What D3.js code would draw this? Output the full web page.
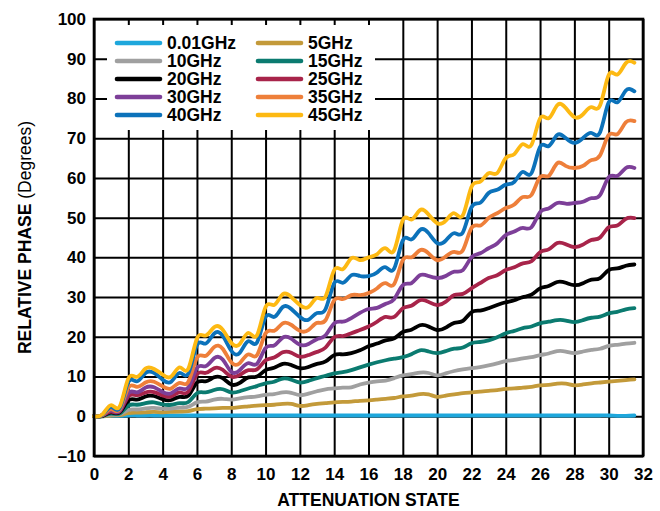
<!DOCTYPE html>
<html>
<head>
<meta charset="utf-8">
<title>Relative Phase vs Attenuation State</title>
<script src="https://cdn.jsdelivr.net/npm/d3@7"></script>
<style>
  body { margin: 0; background: #fff; }
  text { font-family: "Liberation Sans", Arial, sans-serif; font-weight: bold; fill: #000; }
</style>
</head>
<body>
<div id="chart"></div>
<script>
// attenuation states (0.5 dB steps)
var states = [0,0.5,1,1.5,2,2.5,3,3.5,4,4.5,5,5.5,6,6.5,7,7.5,
              8,8.5,9,9.5,10,10.5,11,11.5,12,12.5,13,13.5,14,14.5,15,15.5,
              16,16.5,17,17.5,18,18.5,19,19.5,20,20.5,21,21.5,22,22.5,23,23.5,
              24,24.5,25,25.5,26,26.5,27,27.5,28,28.5,29,29.5,30,30.5,31,31.5];

var xTicks = [0,2,4,6,8,10,12,14,16,18,20,22,24,26,28,30,32];
var yTicks = [-10,0,10,20,30,40,50,60,70,80,90,100];

var legendNames = ["0.01GHz","5GHz","10GHz","15GHz","20GHz","25GHz","30GHz","35GHz","40GHz","45GHz"];
var colors = ["#1ea7dc","#c39a3a","#a0a0a0","#0b7b70","#000000","#a8244a","#7d3f98","#ee7f3a","#0c72ba","#fdb913"];

// relative phase (degrees) per frequency
var p001 = [0,0,0.1,0.1, 0.2,0.2,0.2,0.2, 0.2,0.2,0.2,0.2, 0.2,0.2,0.2,0.2,
            0.2,0.2,0.2,0.2, 0.2,0.2,0.2,0.2, 0.2,0.2,0.2,0.2, 0.2,0.2,0.2,0.2,
            0.2,0.2,0.2,0.2, 0.2,0.2,0.2,0.2, 0.2,0.2,0.2,0.2, 0.2,0.2,0.2,0.2,
            0.2,0.2,0.2,0.2, 0.2,0.2,0.2,0.2, 0.2,0.2,0.2,0.2, 0.2,0.1,0.1,0.2];
var p5 = [0,0,0.2,0.3, 0.8,0.9,1,1.1, 1,1.1,1.2,1.3, 1.8,1.9,2,2.1,
          2.1,2.3,2.5,2.7, 2.8,2.9,3.1,3.1, 2.6,2.8,3.1,3.3, 3.5,3.6,3.7,3.9,
          4,4.2,4.4,4.6, 5,5.2,5.6,5.5, 4.9,5.2,5.5,5.8, 6,6.2,6.4,6.6,
          6.9,7,7.2,7.4, 7.8,7.9,8.2,8.2, 7.8,8,8.3,8.5, 8.7,8.9,9.1,9.3];
var p10 = [0,0.1,0.4,0.5, 1.6,1.7,2,2.1, 1.9,1.9,2.2,2.4, 3.5,3.7,4.2,4.4,
           4.2,4.5,4.8,5, 5.4,5.6,6,5.9, 5.3,5.7,6.3,6.8, 7,7.2,7.3,8,
           8.5,8.8,9,9.6, 10.3,10.6,11,10.9, 10.3,10.8,11.4,11.8, 12.1,12.4,12.8,13.3,
           13.9,14.2,14.6,14.9, 15.4,15.8,16.4,16.3, 15.9,16.3,16.7,17, 17.7,18,18.3,18.5];
var p15 = [0,0.1,0.7,0.7, 2.7,2.9,3.3,3.5, 3,2.9,3.3,3.6, 5.8,6,6.6,6.8,
           6,6.3,7,7.6, 8.3,8.7,9.5,9.2, 8.5,8.9,9.6,10.2, 10.8,11.1,11.6,12.3,
           13,13.6,14.1,14.5, 14.9,15.6,16.6,16.3, 15.9,16.4,17,17.3, 18.4,18.7,19.1,19.9,
           20.9,21.5,22.2,22.6, 23.4,23.8,24.2,24.1, 23.7,24.2,24.8,25.1, 25.9,26.3,26.9,27.2];
var p20 = [0,0.1,1,1, 4,4.2,5,5.1, 4.3,4.1,4.9,5.2, 8.5,8.8,9.8,9.6,
           8,8.4,9.8,10, 11.6,12.2,13.2,12.9, 12.1,12.4,13.2,13.8, 15.4,15.6,15.9,16.6,
           17.6,18.3,19.1,19.6, 21.2,21.8,22.9,22.6, 21.7,22.3,23.5,24, 26.2,26.6,27.2,28,
           28.7,29.2,30,30.6, 32.2,32.8,33.8,33.6, 33,33.5,34.4,34.8, 36.8,37.2,37.9,38.2];
var p25 = [0,0.2,1.2,1.2, 5,5.3,6,6.1, 5.2,5,6,6.2, 10.6,10.9,12.1,11.7,
           10,10.4,11.6,11.8, 14.1,14.8,16.1,16, 15,15.4,16.2,17.3, 19.9,20.2,20.9,21.7,
           22.6,23.8,25,25, 27.2,27.8,29.2,28.8, 28,28.8,30.5,30.8, 32.2,33.5,34.8,35.5,
           36.8,37.5,38.5,39, 41.3,42,43.6,43.3, 42.6,43.2,44.4,45, 47.6,48,49.7,49.9];
var p30 = [0,0.3,1.5,1.4, 5.8,6,7.2,7.3, 6.1,5.8,7,7.3, 12.2,12.6,14.6,14.3,
           11.2,11.6,13.4,13.2, 17.2,17.8,19.8,19.5, 18,18.2,19.4,20.4, 23.4,23.8,24.7,26,
           27,27.3,28.3,29.5, 33,33.5,35.5,35.3, 34.8,35.3,36.4,36.8, 40,41,42.3,43.5,
           45.6,46.5,47.4,47.6, 51.4,52.3,53.7,53.5, 53.7,54,54.9,55.7, 60.2,60.5,62.5,62.5];
var p35 = [0,0.3,1.8,1.7, 7.2,7.4,8.5,8.7, 7.5,7,8.4,8.7, 14.7,15.2,17.4,17,
           13.6,13.4,15.6,15.4, 20.9,21.5,23.4,23, 21.5,21.7,23.5,24.2, 29.2,29.5,30.5,30.5,
           31,32.2,33.5,33.3, 39.3,40,41.8,41, 39.3,40.2,41.4,41.8, 47.4,48,49.9,51.1,
           52.4,53.3,55.2,55.7, 60.2,60.5,63.7,63, 62.5,63,64.5,65.7, 70.8,71,74,74.3];
var p40 = [0,0.4,2.3,2.1, 8.6,8.8,10.9,10.9, 9.2,8.7,10.9,10.8, 17.9,18.3,20.8,20.3,
           16.5,16,18.9,18.6, 25,25,27.5,27, 25,24.3,26,27, 33.5,33.6,35.5,35.3,
           35.3,36.2,37.5,37.2, 44.3,44.5,46.9,46.1, 43.6,44.2,46.1,46.3, 52.6,53.7,56.2,57,
           58.3,59,61.5,61.2, 67.8,68,70.8,70, 68.8,70,71.3,71.5, 79,79,82,81.8];
var p45 = [0,0.5,2.8,2.5, 9.5,9.9,12,11.9, 10.5,10,12.3,12, 19.6,20.3,22.4,21.8,
           18.5,18.2,21,20.4, 27.5,28,30.7,30, 28,27.5,29.8,30.2, 36.8,37,39.8,39.3,
           40,40.8,42.3,41.8, 49.4,49.5,51.9,50.8, 48.6,49.2,51.1,50.6, 57.7,59,61.2,61.2,
           65,66,68.5,68.3, 75,75,78.3,77.6, 75.3,76,77.8,78.3, 85.9,86,88.9,89];

var allSeries = [p001, p5, p10, p15, p20, p25, p30, p35, p40, p45];

var width = 660, height = 511;
var plotLeft = 94, plotRight = 643, plotTop = 19, plotBottom = 456;

var svg = d3.select("#chart").append("svg")
    .attr("width", width)
    .attr("height", height);

var x = d3.scaleLinear().domain([0, 32]).range([plotLeft, plotRight]);
var y = d3.scaleLinear().domain([-10, 100]).range([plotBottom, plotTop]);

// grid
svg.append("g")
    .attr("transform", "translate(0," + plotBottom + ")")
    .call(d3.axisBottom(x).tickValues(xTicks).tickSize(-(plotBottom - plotTop)).tickFormat(""))
    .call(g => g.select(".domain").remove())
    .selectAll("line").attr("stroke", "#000").attr("stroke-width", 2);

svg.append("g")
    .attr("transform", "translate(" + plotLeft + ",0)")
    .call(d3.axisLeft(y).tickValues(yTicks).tickSize(-(plotRight - plotLeft)).tickFormat(""))
    .call(g => g.select(".domain").remove())
    .selectAll("line").attr("stroke", "#000").attr("stroke-width", 2);

// curves
var line = d3.line()
    .x((d, i) => x(states[i]))
    .y(d => y(d))
    .curve(d3.curveNatural);

svg.append("g")
    .selectAll("path")
    .data(allSeries)
    .join("path")
    .attr("d", line)
    .attr("fill", "none")
    .attr("stroke", (d, i) => colors[i])
    .attr("stroke-width", 3.8)
    .attr("stroke-linejoin", "round")
    .attr("stroke-linecap", "round");

// legend box hides the grid behind it
svg.append("rect")
    .attr("x", 107).attr("y", 25)
    .attr("width", 268).attr("height", 105)
    .attr("fill", "#fff");

var legend = svg.append("g");
legendNames.forEach(function(name, i) {
    var col = i % 2, row = Math.floor(i / 2);
    var lx = col === 0 ? 117 : 258;
    var ly = 43 + row * 18;
    legend.append("line")
        .attr("x1", lx).attr("x2", lx + 43)
        .attr("y1", ly).attr("y2", ly)
        .attr("stroke", colors[i])
        .attr("stroke-width", 4.6)
        .attr("stroke-linecap", "round");
    legend.append("text")
        .attr("x", lx + 50).attr("y", ly)
        .attr("dy", "0.36em")
        .style("font-size", "17.5px")
        .text(name);
});

// frame
svg.append("rect")
    .attr("x", plotLeft).attr("y", plotTop)
    .attr("width", plotRight - plotLeft).attr("height", plotBottom - plotTop)
    .attr("fill", "none")
    .attr("stroke", "#000")
    .attr("stroke-width", 2.6);

// tick labels
svg.append("g")
    .attr("transform", "translate(0," + plotBottom + ")")
    .call(d3.axisBottom(x).tickValues(xTicks).tickSize(0).tickPadding(12))
    .call(g => g.select(".domain").remove())
    .selectAll("text")
    .style("font-size", "17px")
    .style("font-family", "'Liberation Sans', Arial, sans-serif")
    .style("font-weight", "bold");

svg.append("g")
    .attr("transform", "translate(" + plotLeft + ",0)")
    .call(d3.axisLeft(y).tickValues(yTicks).tickSize(0).tickPadding(8)
        .tickFormat(d => d < 0 ? "\u2013" + Math.abs(d) : d))
    .call(g => g.select(".domain").remove())
    .selectAll("text")
    .style("font-size", "17px")
    .style("font-family", "'Liberation Sans', Arial, sans-serif")
    .style("font-weight", "bold");

// axis titles
svg.append("text")
    .attr("x", (plotLeft + plotRight) / 2)
    .attr("y", 506)
    .attr("text-anchor", "middle")
    .style("font-size", "17.5px")
    .text("ATTENUATION STATE");

var yTitle = svg.append("text")
    .attr("transform", "translate(31," + ((plotTop + plotBottom) / 2) + ") rotate(-90)")
    .attr("text-anchor", "middle")
    .style("font-size", "17.5px");
yTitle.append("tspan").text("RELATIVE PHASE ");
yTitle.append("tspan").style("font-weight", "normal").text("(Degrees)");
</script>
</body>
</html>
